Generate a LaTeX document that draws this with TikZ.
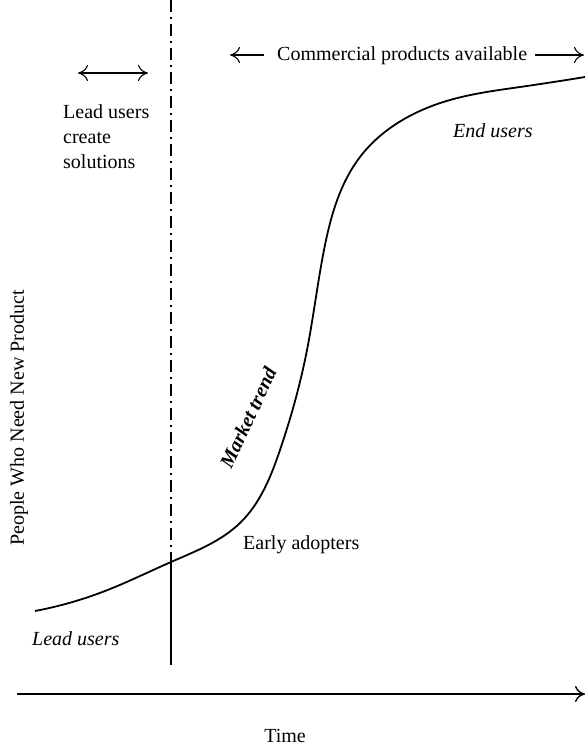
\documentclass[tikz,border=0pt]{standalone}
\usepackage{fontspec}
\setmainfont{Liberation Serif}
\usetikzlibrary{arrows.meta,hobby}
\begin{document}
\begin{tikzpicture}[x=1pt,y=-1pt,
  lbl/.style={font=\fontsize{20}{25}\selectfont, inner sep=0pt},
  cmtip/.style={-{Computer Modern Rightarrow[length=10pt,width=16pt]}},
  cmboth/.style={{Computer Modern Rightarrow[length=10pt,width=16pt]}-{Computer Modern Rightarrow[length=10pt,width=16pt]}},
  curve/.style={line width=1.8pt},
  axis/.style={line width=1.4pt},
  dashdot/.style={line width=1.4pt, dash pattern=on 12pt off 5pt on 2pt off 5pt}]
\useasboundingbox (0,0) rectangle (585,746);
% vertical divider
\coordinate (vtop) at (171,0);
\coordinate (vcross) at (171,562);
\coordinate (vbot) at (171,665);
\draw[dashdot] (vtop) -- (vcross);
\draw[axis] (vcross) -- (vbot);
% top-left arrow
\coordinate (la) at (78,73);
\coordinate (lb) at (148,73);
\draw[cmboth, line width=1.1pt] (la) -- (lb);
\node[lbl, anchor=north west, align=left] (lead) at (63,104) {Lead users\\create\\solutions};
% commercial products
\node[lbl, anchor=base west] (comm) at (277,61) {Commercial products available};
\coordinate (cl) at (230,55);
\coordinate (cr) at (584,55);
\draw[cmtip, line width=1.1pt] (comm.west |- cl) ++(-13,0) coordinate (clstart) (clstart) -- (cl);
\draw[cmtip, line width=1.1pt] (comm.east |- cr) ++(8,0) coordinate (crstart) (crstart) -- (cr);
% S-curve
\draw[curve] (35,611) to[curve through={(105,591) (171,562) (240,523) (280,450) (307,350) (325,245) (360,157) (450,100) (520,87)}] (585,77);
% labels
\node[lbl, anchor=base west, font=\fontsize{20}{25}\selectfont\itshape] (endu) at (453,138) {End users};
\node[lbl, anchor=base west, font=\fontsize{20}{25}\selectfont\itshape] (leadu) at (32,645) {Lead users};
\node[lbl, anchor=base west] (early) at (243,549) {Early adopters};
\node[lbl, rotate=65, font=\fontsize{20}{25}\selectfont\bfseries\itshape] (mkt) at (248,418) {Market trend};
\node[lbl, rotate=90] (ylab) at (19,418) {People Who Need New Product};
% time axis
\coordinate (t0) at (17,694);
\coordinate (t1) at (585,694);
\draw[axis, cmtip] (t0) -- (t1);
\node[lbl, anchor=base] (time) at (285,742) {Time};
\end{tikzpicture}
\end{document}
